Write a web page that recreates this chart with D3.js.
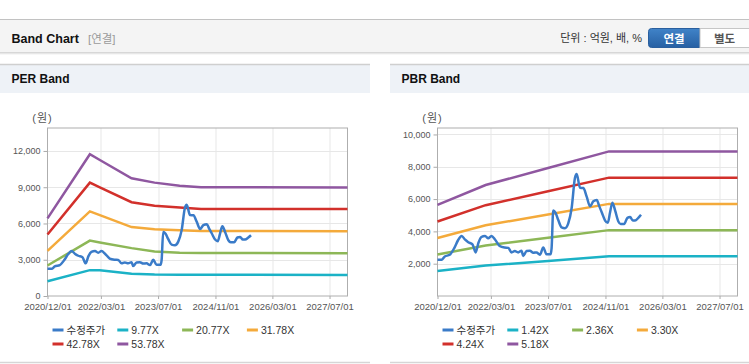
<!DOCTYPE html>
<html>
<head>
<meta charset="utf-8">
<script src="https://cdn.jsdelivr.net/npm/d3@7"></script>
<style>
  body { margin: 0; background: #fff; }
  svg { display: block; font-family: "Liberation Sans", Arial, "Noto Sans CJK KR", sans-serif; }
</style>
</head>
<body>
<svg width="749" height="364"></svg>
<script>
// 수정주가 (same series in both charts)
var priceDates = ["2020-12-01","2021-01-05","2021-02-01","2021-03-15","2021-04-25","2021-05-25","2021-06-25",
  "2021-07-22","2021-08-20","2021-09-25","2021-10-22","2021-11-15","2021-12-10","2022-01-10","2022-02-06",
  "2022-03-06","2022-04-05","2022-05-15","2022-06-25","2022-07-27","2022-08-24","2022-09-21","2022-10-19",
  "2022-11-17","2022-12-01","2022-12-30","2023-01-27","2023-02-25","2023-03-25","2023-04-23","2023-05-21",
  "2023-06-18","2023-07-22","2023-07-31","2023-08-14","2023-09-03","2023-09-26","2023-10-24","2023-11-22",
  "2023-12-20","2024-01-18","2024-02-15","2024-03-01","2024-03-29","2024-04-27","2024-05-25","2024-06-23",
  "2024-07-21","2024-08-19","2024-09-08","2024-10-01","2024-10-29","2024-11-21","2024-12-10","2024-12-30",
  "2025-01-22","2025-02-19","2025-03-11","2025-04-09","2025-05-07","2025-05-30","2025-06-22","2025-07-11",
  "2025-08-08","2025-08-31"];
var priceValues = [2250,2250,2450,2550,3000,3450,3720,
  3500,3330,3200,2700,3300,3650,3720,3580,
  3720,3500,3100,3000,2980,2700,2780,2700,
  2800,2480,2780,2800,2680,2700,2560,3000,
  2580,2580,2950,5300,5150,4700,4250,4200,
  4500,5450,7300,7550,6700,6680,6150,5550,
  5860,5940,5580,5170,4670,4530,5170,5780,
  5300,4610,4450,4450,4840,4890,4670,4670,
  4840,5030];

// PER band
var perDates = ["2020-12-01","2021-11-27","2022-02-20","2022-11-17","2023-06-01","2024-01-01","2024-07-01","2027-12-01"];
var perNames = ["9.77X","20.77X","31.78X","42.78X","53.78X"];
var per977  = [1220, 2140, 2140, 1850, 1780, 1760, 1750, 1745];
var per2077 = [2520, 4580, 4430, 3960, 3680, 3580, 3550, 3545];
var per3178 = [3740, 7000, 6690, 5700, 5530, 5440, 5370, 5365];
var per4278 = [5090, 9380, 8990, 7760, 7470, 7330, 7200, 7190];
var per5378 = [6420, 11730, 11250, 9740, 9380, 9130, 9000, 8975];
var perTicks = [0, 3000, 6000, 9000, 12000];

// PBR band
var pbrDates = ["2020-12-01","2022-01-15","2023-07-01","2024-12-01","2027-12-01"];
var pbrNames = ["1.42X","2.36X","3.30X","4.24X","5.18X"];
var pbr142 = [1545, 1883, 2173, 2454, 2454];
var pbr236 = [2568, 3129, 3611, 4078, 4078];
var pbr330 = [3590, 4376, 5049, 5702, 5702];
var pbr424 = [4613, 5622, 6487, 7327, 7327];
var pbr518 = [5636, 6869, 7925, 8951, 8951];
var pbrTicks = [2000, 4000, 6000, 8000, 10000];

var xTickLabels = ["2020/12/01","2022/03/01","2023/07/01","2024/11/01","2026/03/01","2027/07/01"];

var colors = ["#3a7bc8", "#1bb2c6", "#8db757", "#f4aa3b", "#d2302b", "#8f57a0"];

var svg = d3.select("svg");
var parseDate = d3.utcParse("%Y-%m-%d"),
    parseTick = d3.utcParse("%Y/%m/%d");

// ---- top header bar ----
var defs = svg.append("defs");
var shadow = defs.append("linearGradient").attr("id", "shadow").attr("x1", 0).attr("x2", 0).attr("y1", 0).attr("y2", 1);
shadow.append("stop").attr("offset", "0%").attr("stop-color", "#cfcfcf");
shadow.append("stop").attr("offset", "100%").attr("stop-color", "#ffffff");
var blue = defs.append("linearGradient").attr("id", "blue").attr("x1", 0).attr("x2", 0).attr("y1", 0).attr("y2", 1);
blue.append("stop").attr("offset", "0%").attr("stop-color", "#4083c8");
blue.append("stop").attr("offset", "100%").attr("stop-color", "#2760a3");

svg.append("rect").attr("x", 0).attr("y", 19).attr("width", 749).attr("height", 33).attr("fill", "#f4f4f4");
svg.append("line").attr("x1", 0).attr("x2", 749).attr("y1", 19.5).attr("y2", 19.5).attr("stroke", "#c2c2c2");
svg.append("rect").attr("x", 0).attr("y", 52).attr("width", 749).attr("height", 3).attr("fill", "url(#shadow)");

svg.append("text").attr("x", 11.5).attr("y", 38.5).attr("dy", "0.35em")
    .style("font-size", "12.5px").style("font-weight", "bold").attr("fill", "#111")
    .text("Band Chart");
svg.append("text").attr("x", 88).attr("y", 38.5).attr("dy", "0.35em")
    .style("font-size", "11.5px").attr("fill", "#9a9a9a")
    .text("[연결]");

svg.append("text").attr("x", 642).attr("y", 38.5).attr("dy", "0.35em").attr("text-anchor", "end")
    .style("font-size", "11px").attr("fill", "#333")
    .text("단위 : 억원, 배, %");

svg.append("path")
    .attr("d", "M651.5,28.5 H700 V47.5 H651.5 Q648.5,47.5 648.5,44.5 V31.5 Q648.5,28.5 651.5,28.5 Z")
    .attr("fill", "url(#blue)").attr("stroke", "#2a5f9e");
svg.append("rect").attr("x", 700).attr("y", 28.5).attr("width", 52).attr("height", 19)
    .attr("fill", "#fff").attr("stroke", "#c6c6c6");
svg.append("text").attr("x", 674).attr("y", 38.5).attr("dy", "0.35em").attr("text-anchor", "middle")
    .style("font-size", "11.5px").style("font-weight", "bold").attr("fill", "#fff").text("연결");
svg.append("text").attr("x", 724.5).attr("y", 38.5).attr("dy", "0.35em").attr("text-anchor", "middle")
    .style("font-size", "11.5px").style("font-weight", "bold").attr("fill", "#555").text("별도");

// ---- one band chart panel ----
function drawBand(left, panelWidth, title, yMax, yTicks, dates, names, bands) {
  var width = 300, height = 168;

  var panel = svg.append("g").attr("transform", "translate(" + left + ",0)");
  panel.append("rect").attr("x", 0).attr("y", 64).attr("width", panelWidth).attr("height", 29).attr("fill", "#eef2f7");
  panel.append("line").attr("x1", 0).attr("x2", panelWidth).attr("y1", 64.5).attr("y2", 64.5)
      .attr("stroke", "#cfcfcf").attr("stroke-width", 1.5);
  panel.append("line").attr("x1", 0).attr("x2", panelWidth).attr("y1", 362.5).attr("y2", 362.5)
      .attr("stroke", "#d6d6d6").attr("stroke-width", 1.5);
  panel.append("text").attr("x", 11.5).attr("y", 79).attr("dy", "0.35em")
      .style("font-size", "12px").style("font-weight", "bold").attr("fill", "#111")
      .text(title);

  panel.append("text").attr("x", 42.5).attr("y", 118).attr("dy", "0.35em").attr("text-anchor", "middle")
      .style("font-size", "11px").style("letter-spacing", "1px").attr("fill", "#555")
      .text("(원)");

  var g = panel.append("g").attr("transform", "translate(47.5,128)");

  var x = d3.scaleUtc().domain([parseDate("2020-12-01"), parseDate("2027-12-01")]).range([0, width]);
  var y = d3.scaleLinear().domain([0, yMax]).range([height, 0]);
  var xTicks = xTickLabels.map(parseTick);

  // grid
  g.append("g").selectAll("line")
      .data(yTicks.filter(function(d) { return d > 0; }))
      .enter().append("line")
      .attr("x1", 0).attr("x2", width)
      .attr("y1", function(d) { return Math.round(y(d)) + 0.5; })
      .attr("y2", function(d) { return Math.round(y(d)) + 0.5; })
      .attr("stroke", "#e7e7e7");
  g.append("g").selectAll("line")
      .data(xTicks.slice(1))
      .enter().append("line")
      .attr("y1", 0).attr("y2", height)
      .attr("x1", function(d) { return Math.round(x(d)) + 0.5; })
      .attr("x2", function(d) { return Math.round(x(d)) + 0.5; })
      .attr("stroke", "#e7e7e7");

  // axes
  var yAxis = g.append("g")
      .call(d3.axisLeft(y).tickValues(yTicks).tickSize(4).tickPadding(3).tickFormat(d3.format(",")));
  var xAxis = g.append("g").attr("transform", "translate(0," + height + ")")
      .call(d3.axisBottom(x).tickValues(xTicks).tickSize(3).tickPadding(4).tickFormat(d3.utcFormat("%Y/%m/%d")));
  yAxis.select(".domain").remove();
  xAxis.select(".domain").remove();
  g.selectAll(".tick line").attr("stroke", "#aaa");
  yAxis.selectAll("text").style("font-size", "9px").attr("fill", "#555").style("font-family", null);
  xAxis.selectAll("text").style("font-size", "9.5px").attr("fill", "#555").style("font-family", null);
  yAxis.attr("font-family", null);
  xAxis.attr("font-family", null);

  g.append("rect").attr("x", 0).attr("y", 0).attr("width", width).attr("height", height)
      .attr("fill", "none").attr("stroke", "#aeaeae");

  // band lines
  var line = d3.line()
      .x(function(d) { return x(d.date); })
      .y(function(d) { return y(d.value); });

  bands.forEach(function(vals, i) {
    var pts = dates.map(function(d, j) { return {date: parseDate(d), value: vals[j]}; });
    g.append("path").datum(pts)
        .attr("fill", "none")
        .attr("stroke", colors[i + 1])
        .attr("stroke-width", 2.5)
        .attr("d", line);
  });

  var price = priceDates.map(function(d, j) { return {date: parseDate(d), value: priceValues[j]}; });
  g.append("path").datum(price)
      .attr("fill", "none")
      .attr("stroke", colors[0])
      .attr("stroke-width", 2.5)
      .attr("stroke-linejoin", "round")
      .attr("d", line.curve(d3.curveMonotoneX));

  // legend
  var items = ["수정주가"].concat(names);
  var legend = panel.append("g").selectAll("g")
      .data(items)
      .enter().append("g")
      .attr("transform", function(d, i) {
        return "translate(" + (52.5 + (i % 4) * 64.8) + "," + (i < 4 ? 330 : 344) + ")";
      });
  legend.append("line")
      .attr("x1", 0).attr("x2", 11)
      .attr("stroke", function(d, i) { return colors[i]; })
      .attr("stroke-width", 3);
  legend.append("text")
      .attr("x", 14).attr("dy", "0.35em")
      .style("font-size", "10.5px").attr("fill", "#333")
      .text(function(d) { return d; });
}

drawBand(0, 370, "PER Band", 13900, perTicks, perDates, perNames, [per977, per2077, per3178, per4278, per5378]);
drawBand(390, 359, "PBR Band", 10400, pbrTicks, pbrDates, pbrNames, [pbr142, pbr236, pbr330, pbr424, pbr518]);
</script>
</body>
</html>
